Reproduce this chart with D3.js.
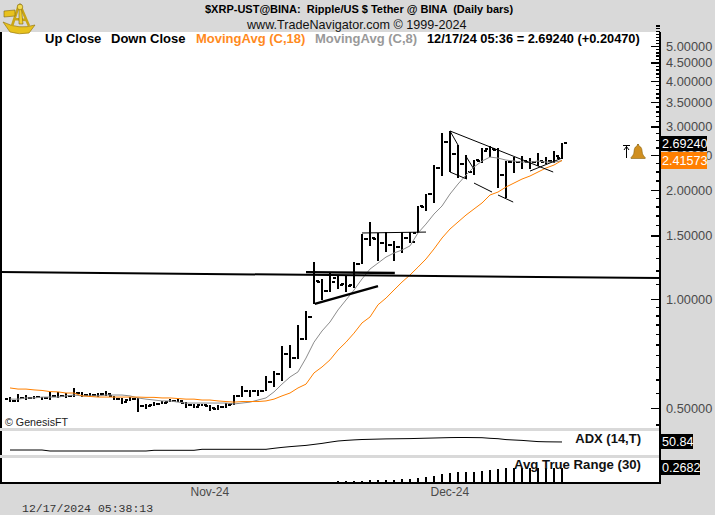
<!DOCTYPE html>
<html><head><meta charset="utf-8">
<script src="https://cdn.jsdelivr.net/npm/d3@7"></script>
<style>
html,body{margin:0;padding:0;background:#d9d9d9;overflow:hidden}
svg{display:block}
text{font-family:"Liberation Sans",Arial,sans-serif}
</style></head><body><svg id="c" width="715" height="515"></svg>
<script>
const highs=[.536,.547,.543,.540,.536,.554,.554,.550,.568,.554,.550,.550,.557,.540,.533,.536,.533,.513,.519,.523,.529,.529,.519,.513,.513,.510,.510,.516,.543,.575,.561,.561,.613,.633,.741,.746,.848,.927,1.265,1.136,1.180,1.158,1.158,1.265,1.512,1.632,1.522,1.531,1.447,1.531,1.531,1.807,1.950,2.345,2.875,2.912,2.663,2.499,2.420,2.612,2.646,2.612,2.405,2.467,2.483,2.451,2.531,2.467,2.563,2.697];
const lows=[.519,.519,.526,.529,.526,.526,.533,.533,.536,.536,.536,.536,.540,.526,.513,.523,.488,.497,.506,.513,.519,.519,.500,.500,.506,.491,.494,.500,.510,.536,.536,.540,.557,.571,.594,.645,.683,.770,.970,.994,1.045,1.066,1.045,1.072,1.249,1.402,1.273,1.349,1.273,1.340,1.429,1.522,1.750,1.842,2.187,2.243,2.159,2.145,2.200,2.375,2.467,2.026,1.901,2.229,2.286,2.286,2.330,2.360,2.375,2.436];
const opens=[.529,.523,.533,.533,.536,.533,.540,.540,.540,.550,.543,.543,.547,.540,.529,.526,.529,.506,.510,.513,.519,.523,.516,.510,.510,.506,.497,.503,.513,.540,.557,.557,.557,.590,.621,.705,.687,.775,.892,1.114,1.052,1.143,1.100,1.093,1.249,1.465,1.465,1.429,1.410,1.393,1.474,1.522,1.795,1.950,2.301,2.714,2.515,2.360,2.243,2.405,2.596,2.579,2.200,2.390,2.390,2.390,2.390,2.390,2.405,2.451];
const closes=[.523,.533,.533,.536,.533,.540,.540,.540,.550,.543,.543,.547,.547,.529,.519,.529,.506,.506,.513,.516,.523,.523,.510,.503,.510,.500,.503,.510,.540,.557,.557,.557,.590,.621,.705,.687,.775,.892,1.121,1.052,1.114,1.093,1.086,1.249,1.465,1.474,1.429,1.410,1.393,1.474,1.438,1.807,1.950,2.301,2.714,2.515,2.360,2.243,2.420,2.563,2.596,2.200,2.390,2.390,2.405,2.390,2.405,2.405,2.483,2.6924];
const ma18=[.568,.564,.564,.561,.559,.555,.554,.550,.550,.540,.538,.536,.536,.536,.536,.536,.536,.535,.535,.533,.533,.531,.529,.529,.526,.526,.523,.521,.519,.521,.521,.521,.523,.529,.540,.550,.568,.582,.625,.649,.679,.723,.760,.805,.859,.892,.964,1.006,1.059,1.114,1.165,1.225,1.290,1.375,1.474,1.561,1.632,1.706,1.773,1.842,1.938,1.975,2.039,2.091,2.145,2.187,2.243,2.301,2.345,2.41573];
const ma8=[.529,.529,.533,.533,.536,.536,.536,.540,.543,.540,.540,.540,.543,.543,.543,.540,.533,.529,.526,.523,.523,.519,.516,.516,.516,.516,.516,.516,.513,.516,.519,.526,.533,.554,.582,.609,.629,.687,.760,.816,.864,.933,.994,1.059,1.136,1.210,1.257,1.306,1.340,1.366,1.402,1.522,1.611,1.717,1.807,1.950,2.078,2.200,2.315,2.405,2.467,2.451,2.420,2.405,2.390,2.390,2.405,2.390,2.390,2.41];
const adx=[34.8,34.8,34.8,34.8,34.8,32.8,32.8,32.8,32.8,32.8,32.8,32.8,32.8,32.8,32.8,32.8,32.8,32.8,34.2,34.2,34.2,34.2,34.2,34.2,36.2,36.2,36.2,36.2,36.2,36.2,36.2,36.2,36.2,38.2,40,41.5,42.8,44,46,48,50.5,52.8,54,55,55.8,56.2,56.6,57,57.2,57.4,57.6,58,58.4,58.8,59.2,59.6,59.8,59.8,59.6,59.4,58.2,57.4,55.6,54.8,54,52.8,51.6,51.2,51,50.84];
const atr=[.028,.028,.027,.027,.027,.027,.026,.026,.026,.026,.025,.025,.025,.025,.025,.025,.026,.026,.026,.025,.025,.025,.025,.025,.024,.024,.024,.024,.05,.052,.052,.053,.056,.058,.062,.066,.07,.076,.085,.09,.1,.11,.112,.115,.118,.124,.126,.128,.13,.136,.14,.148,.156,.172,.196,.208,.22,.225,.22,.228,.25,.262,.268,.27,.268,.27,.268,.268,.268,.2682];
const priceTicks=[5,4.5,4,3.5,3,2.5,2,1.5,1,.5];
const minorTicks=[5.7,5.6,5.5,5.4,5.3,5.2,5.1,4.9,4.8,4.7,4.6,4.4,4.3,4.2,4.1,3.9,3.8,3.7,3.6,3.4,3.3,3.2,3.1,2.875,2.75,2.625,2.375,2.25,2.125,1.9,1.8,1.7,1.6,1.4,1.3,1.2,1.1,.95,.9,.85,.8,.75,.7,.65,.6,.55,.45];
const monthIdx=[23,53];
const monthLabels=["Nov-24","Dec-24"];
const thickLines=[[[-1.25,1.187],[81.25,1.143]],[[37,1.187],[48.1,1.180]],[[38.1,.970],[46,1.086]]];
const thinLines=[[[44,1.522],[52,1.531]],[[55,2.912],[67.9,2.243]],[[55,2.243],[57.1,2.145]],[[58,2.091],[60.25,1.975]],[[61,1.938],[62.9,1.853]],[[55,2.912],[56,2.663]],[[56.9,2.499],[57.9,2.301]],[[65,2.257],[69,2.451]]];

const svg=d3.select("#c");
const n=closes.length;
const x=d3.scaleLinear().domain([0,n-1]).range([10,562]);
const y=d3.scaleLog().domain([.5,5]).range([408,46]);
const yAdx=d3.scaleLinear().domain([24.8,72.8]).range([455,431]);
const yAtr=d3.scaleLinear().domain([.1,.389]).range([482,458]);
const GOLD="#e8c21e";
// panels
svg.append("rect").attr("x",0).attr("y",32).attr("width",660).attr("height",452).attr("fill","#fff");
svg.append("rect").attr("x",0).attr("y",32).attr("width",2).attr("height",452).attr("fill","#000");
svg.append("rect").attr("x",0).attr("y",482).attr("width",661).attr("height",2).attr("fill","#000");
[[428,3],[455,3]].forEach(b=>svg.append("rect").attr("x",0).attr("y",b[0]).attr("width",659).attr("height",b[1]).attr("fill","#d9d9d9"));

// price bars
const bars=svg.append("g").attr("stroke","#000").attr("stroke-width",2).attr("shape-rendering","crispEdges");
d3.range(n).forEach(i=>{
  const g=bars.append("g");
  g.append("line").attr("x1",x(i)).attr("x2",x(i)).attr("y1",y(highs[i])).attr("y2",y(lows[i]));
  g.append("line").attr("x1",x(i)-5).attr("x2",x(i)-2).attr("y1",Math.round(y(opens[i]))).attr("y2",Math.round(y(opens[i])));
  g.append("line").attr("x1",x(i)+2).attr("x2",x(i)+5).attr("y1",Math.round(y(closes[i]))).attr("y2",Math.round(y(closes[i])));
});
const line=d3.line().x((d,i)=>x(i));
svg.append("path").attr("d",line.y(d=>y(d))(ma8)).attr("fill","none").attr("stroke","#8c8c8c").attr("stroke-width",1);
svg.append("path").attr("d",line.y(d=>y(d))(ma18)).attr("fill","none").attr("stroke","#ff8000").attr("stroke-width",1);
// drawn trend lines
const seg=d3.line().x(d=>x(d[0])).y(d=>y(d[1]));
thickLines.forEach((s,k)=>svg.append("path").attr("d",seg(s)).attr("fill","none").attr("stroke","#000").attr("stroke-width",k?2.4:2));
thinLines.forEach(s=>svg.append("path").attr("d",seg(s)).attr("fill","none").attr("stroke","#000").attr("stroke-width",1));

// indicators
svg.append("path").attr("d",d3.line().x((d,i)=>x(i)).y(d=>yAdx(d))(adx)).attr("fill","none").attr("stroke","#000").attr("stroke-width",1);
svg.append("g").attr("stroke","#000").attr("stroke-width",2).attr("shape-rendering","crispEdges")
  .selectAll("line").data(atr).join("line")
  .attr("x1",(d,i)=>x(i)).attr("x2",(d,i)=>x(i))
  .attr("y1",482).attr("y2",d=>Math.min(482,yAtr(d)));

// axes
const axR=svg.append("g").attr("transform","translate(660,0)")
  .call(d3.axisRight(y).tickValues(priceTicks).tickFormat(d3.format(".5f")).tickSize(-9).tickPadding(6));
axR.selectAll("line").attr("stroke","#000").attr("stroke-width",1.5).attr("shape-rendering","crispEdges");
axR.selectAll("text").attr("font-size",12.8).attr("fill","#4a4a4a").style("font-family",'"Liberation Sans"');
axR.select(".domain").remove();
const axM=svg.append("g").attr("transform","translate(660,0)")
  .call(d3.axisLeft(y).tickValues(minorTicks).tickFormat("").tickSize(4));
axM.selectAll("line").attr("stroke","#000").attr("stroke-width",1.5).attr("shape-rendering","crispEdges");
axM.select(".domain").remove();
svg.append("rect").attr("x",659).attr("y",32).attr("width",2).attr("height",452).attr("fill","#000");
const axB=svg.append("g").attr("transform","translate(0,484)")
  .call(d3.axisBottom(x).tickValues(monthIdx).tickFormat((d,i)=>monthLabels[i]).tickSize(0).tickPadding(3));
axB.select(".domain").remove();
axB.selectAll("text").attr("font-size",12).attr("fill","#4a4a4a").attr("text-anchor","start").attr("dx",-4);

// text
function T(s,px,py,o={}){const t=svg.append("text").attr("x",px).attr("y",py).attr("font-size",o.size||13)
  .attr("font-weight",o.bold?"bold":"normal").attr("fill",o.fill||"#000").attr("text-anchor",o.anchor||"start").attr("xml:space","preserve").style("white-space","pre").text(s);
  if(o.family)t.style("font-family",o.family);return t;}
T("$XRP-UST@BINA:  Ripple/US $ Tether @ BINA  (Daily bars)",205,13,{size:11,bold:true});
T("www.TradeNavigator.com © 1999-2024",247,29,{size:12.6,fill:"#111"});
T("Up Close",45,43,{bold:true});
T("Down Close",111,43,{bold:true});
T("MovingAvg (C,18)",196,43,{bold:true,fill:"#ff8a1e"});
T("MovingAvg (C,8)",315,43,{bold:true,fill:"#999"});
T("12/17/24 05:36 = 2.69240 (+0.20470)",427,43,{size:12.8,bold:true});
T("© GenesisFT",5,426,{size:10.7,fill:"#222"});
T("ADX (14,T)",641,443,{bold:true,anchor:"end",fill:"#111"});
T("Avg True Range (30)",641,469,{size:13.2,bold:true,anchor:"end",fill:"#111"});
T("12/17/2024 05:38:13",22,512,{size:11.5,fill:"#333",family:'"Liberation Mono"'});

// value tags
function tag(s,yy,h,w,bg){svg.append("rect").attr("x",661).attr("y",yy).attr("width",w).attr("height",h).attr("fill",bg);
  T(s,662,yy+h/2+4.5,{size:12.6,fill:"#fff"});}
tag(d3.format(".5f")(closes[n-1]),136,15,46,"#000");
tag(d3.format(".5f")(ma18[n-1]),152,17,46,"#ff7f00");
tag(d3.format(".2f")(adx[n-1]),434,15,32,"#000");
tag(d3.format(".4f")(atr[n-1]),460,15,39,"#000");

// alert arrow + bell
const al=svg.append("g").attr("transform","translate(626,144)");
al.append("path").attr("d","M-3,1.5H4M.5,2V14M-2,6L.5,2.5L3,6").attr("fill","none").attr("stroke","#000").attr("stroke-width",1);
al.append("path").attr("d","M11,0.5c1.5,0 2,1 2,1.5c3,1 3,4 3.2,6c.2,2.5 1.5,4 3,5.5v1H5v-1c1.500-1.500 2.800-3 3-5.500c.2-2 .2-5 3-6c0-.5 .5-1.500 2-1.500z")
  .attr("fill","#d08f20").attr("stroke","#8a6510").attr("stroke-width",.6);

// sextant logo
const lg=svg.append("g");
lg.append("path").attr("d","M3,22Q19,30 35,25L29,33Q19,35 10,32Z").attr("fill",GOLD).attr("stroke","#9a7a10").attr("stroke-width",.7);
lg.append("path").attr("d","M19,5L12,26M20,5L29,26M15,19L26,20").attr("fill","none").attr("stroke","#c9a516").attr("stroke-width",2.6);
lg.append("path").attr("d","M4,11L15,10L15,16L4,17Z").attr("fill",GOLD).attr("stroke","#7d6410").attr("stroke-width",.6);
lg.append("path").attr("d","M19,4L21,4L23,24L19,24Z").attr("fill","#f0d030").attr("stroke","#7d6410").attr("stroke-width",.6);
lg.append("circle").attr("cx",20).attr("cy",7).attr("r",2.8).attr("fill","#f4dc50").attr("stroke","#7d6410").attr("stroke-width",.6);
</script></body></html>
